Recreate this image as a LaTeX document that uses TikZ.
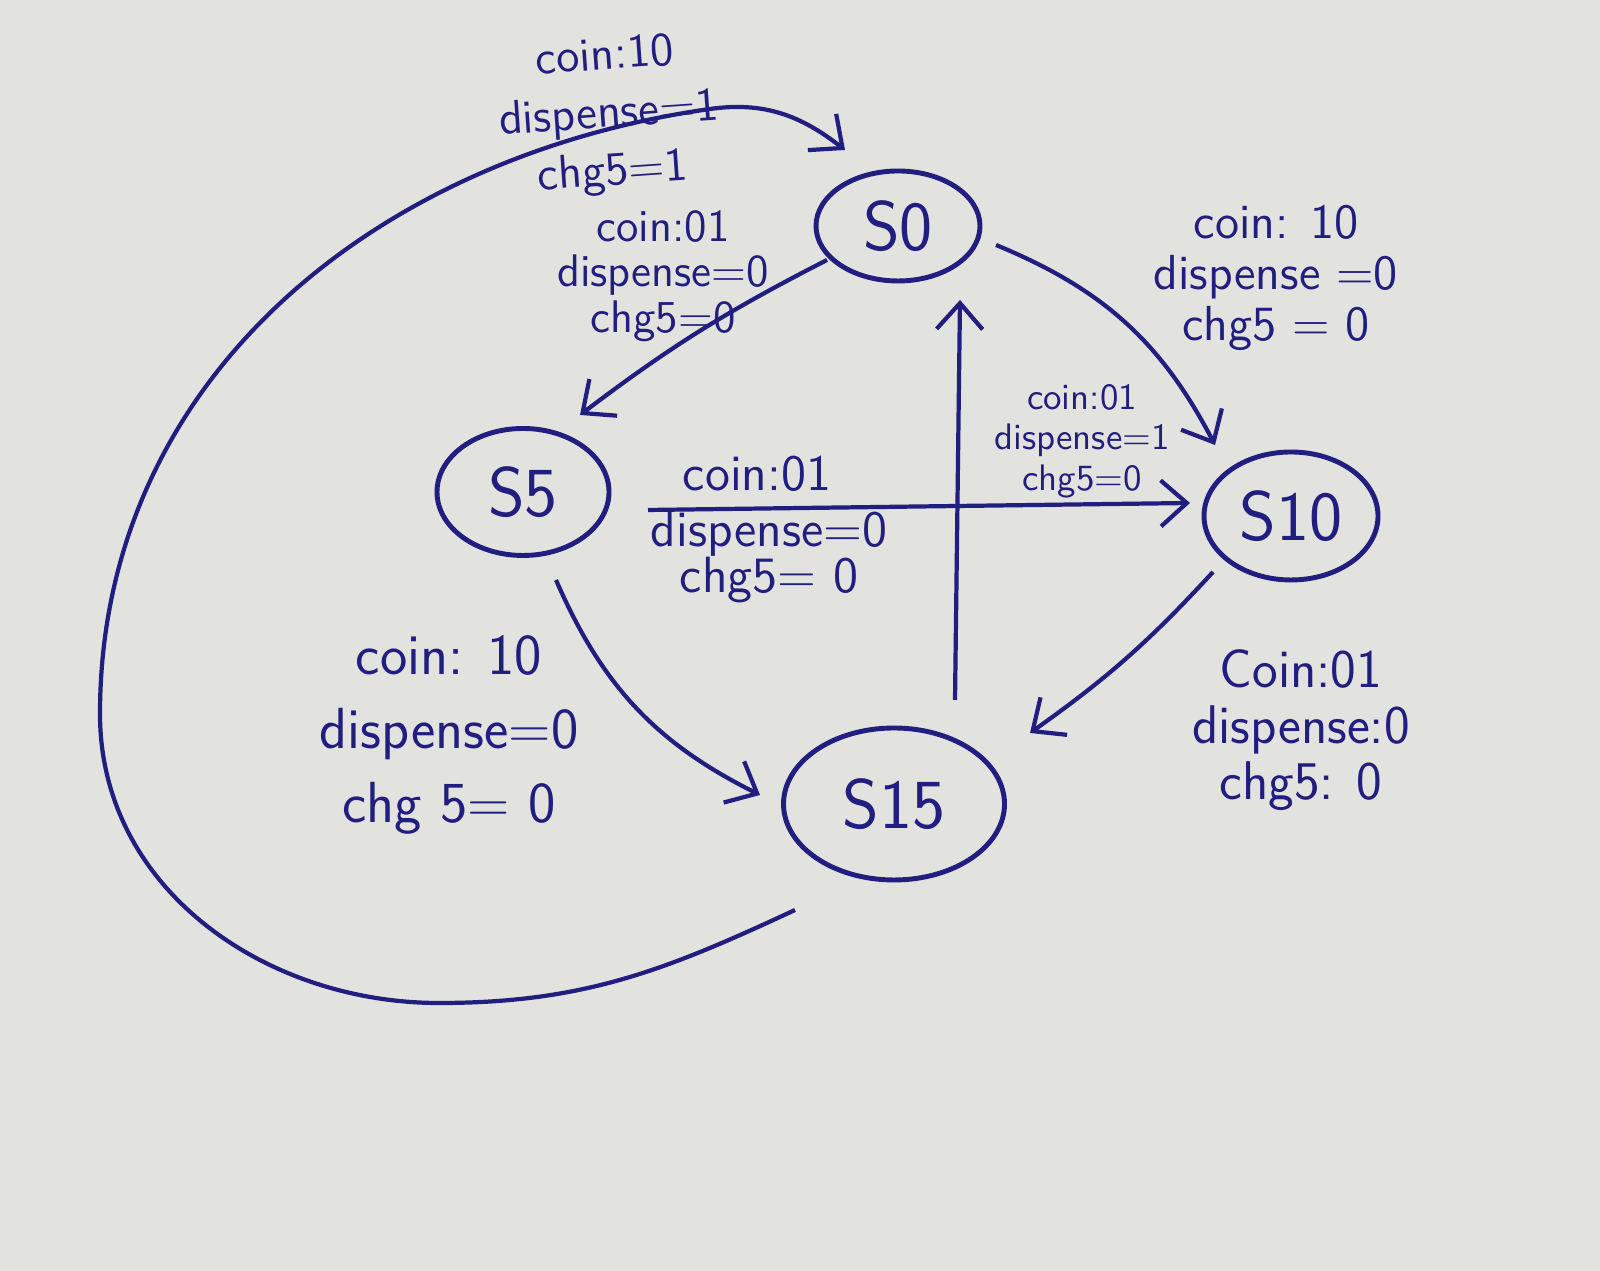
\documentclass[tikz,border=0pt]{standalone}
\usepackage{tikz}
\usetikzlibrary{shapes.geometric, arrows.meta, positioning, calc}
\definecolor{inkBlue}{RGB}{34,30,128}
\definecolor{paperGray}{RGB}{226,226,223}
\newcommand{\fs}[2]{\fontsize{#1}{#2}\selectfont\sffamily}
\tikzset{
  fsm/state/.style={ellipse, draw=inkBlue, line width=1.4pt, inner sep=0pt,
    font=\fs{20}{22}, text=inkBlue},
  fsm/arr/.style={-{Straight Barb[length=2.6mm,width=4.6mm,line width=1.2pt]},
    line width=1.2pt, draw=inkBlue},
  fsm/lbl/.style={align=center, inner sep=0pt, text=inkBlue}
}
\begin{document}
\begin{tikzpicture}
  \fill[paperGray] (0,0) rectangle (16,12.71);
  \useasboundingbox (0,0) rectangle (16,12.71);

  % states
  \node[fsm/state, minimum width=16.4mm, minimum height=11mm] (s0) at (8.98,10.45) {S0};
  \node[fsm/state, minimum width=17.2mm, minimum height=12.7mm] (s5) at (5.23,7.79) {S5};
  \node[fsm/state, minimum width=17.4mm, minimum height=12.8mm] (s10) at (12.91,7.55) {S10};
  \node[fsm/state, minimum width=22.1mm, minimum height=15.2mm] (s15) at (8.94,4.67) {S15};

  % labels
  \node[fsm/lbl, font=\fs{13.5}{16.5}, rotate=4] (l1) at (6.09,11.55)
       {coin:10\\dispense=1\\chg5=1};
  \node[fsm/lbl, font=\fs{13}{13}] (l2) at (6.63,9.95)
       {coin:01\\dispense=0\\chg5=0};
  \node[fsm/lbl, font=\fs{14}{14.5}] (l3) at (12.76,9.93)
       {coin: 10\\dispense =0\\chg5 = 0};
  \node[fsm/lbl, font=\fs{10.5}{11.5}] (l4) at (10.82,8.30)
       {coin:01\\dispense=1\\chg5=0};
  \node[fsm/lbl, font=\fs{14.5}{13}] (l5a) at (7.57,7.97) {coin:01};
  \node[fsm/lbl, font=\fs{14.5}{13}] (l5b) at (7.69,7.14)
       {dispense=0\\chg5= 0};
  \node[fsm/lbl, font=\fs{16.5}{21}] (l6) at (4.49,5.36)
       {coin: 10\\dispense=0\\chg 5= 0};
  \node[fsm/lbl, font=\fs{15.5}{16}] (l7) at (13.01,5.41)
       {Coin:01\\dispense:0\\chg5: 0};

  % transitions
  \draw[fsm/arr] ($(s0)+(-0.71,-0.34)$) to[bend right=5] ($(s5)+(0.57,0.77)$);
  \draw[fsm/arr] ($(s0)+(0.98,-0.19)$) to[bend left=20] ($(s10)+(-0.76,0.71)$);
  \draw[fsm/arr] ($(s5)+(1.25,-0.18)$) -- ($(s10)+(-1.01,0.13)$);
  \draw[fsm/arr] ($(s5)+(0.33,-0.88)$) to[bend right=20] ($(s15)+(-1.34,0.09)$);
  \draw[fsm/arr] ($(s10)+(-0.78,-0.56)$) to[bend left=6] ($(s15)+(1.36,0.71)$);
  \draw[fsm/arr] ($(s15)+(0.61,1.04)$) -- ($(s0)+(0.62,-0.74)$);
  \draw[fsm/arr] ($(s15)+(-0.99,-1.06)$) to[out=205,in=0] (4.39,2.68)
        to[out=180,in=270] (1.0,5.57) to[out=90,in=188] (7.1,11.62)
        to[out=8,in=142] ($(s0)+(-0.53,0.76)$);
\end{tikzpicture}
\end{document}
